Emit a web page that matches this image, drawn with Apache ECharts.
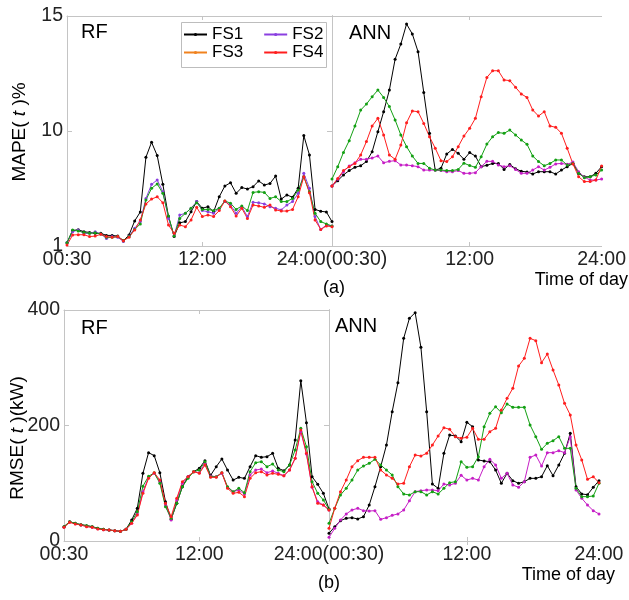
<!DOCTYPE html>
<html><head><meta charset="utf-8">
<script src="https://cdn.jsdelivr.net/npm/echarts/dist/echarts.min.js"></script>
<style>html,body{margin:0;padding:0;background:#fff}#c{width:629px;height:600px}</style>
</head><body><div id="c"></div>
<script>
const FONT = 'Liberation Sans, Arial, Helvetica, sans-serif';

// half-hour slots 00:30 ... 24:00 -> index 0..47
const slots = Array.from({length:48}, (_, i) => i);
const tickLabelsLeft = {0:'00:30', 24:'12:00', 47:'24:00(00:30)'};
const tickLabelsRight = {24:'12:00', 47:'24:00'};
const mapeTicks = {5:'1', 10:'10', 15:'15'};

// (a) MAPE(t) %, RF
const rfMapeFS1 = [5.14,5.67,5.71,5.62,5.59,5.55,5.55,5.46,5.46,5.43,5.23,5.48,6.09,6.48,8.86,9.51,8.93,7.68,6.28,5.41,6.01,6.06,6.49,6.93,6.64,6.71,6.49,7.14,7.61,7.75,7.29,7.54,7.48,7.58,7.83,7.65,7.72,8.04,7.04,7.22,7.12,7.51,9.80,8.96,6.59,6.51,6.48,6.06];
const rfMapeFS2 = [5.14,5.62,5.70,5.55,5.55,5.62,5.52,5.33,5.41,5.38,5.20,5.43,5.77,6.06,7.07,7.68,7.87,7.36,6.20,5.45,6.35,6.42,6.64,6.93,6.54,6.49,6.42,6.64,6.93,6.78,6.42,6.71,6.28,6.90,6.88,6.83,6.71,6.64,6.57,6.78,6.93,7.29,8.16,7.51,6.28,5.72,5.91,5.87];
const rfMapeFS3 = [5.14,5.70,5.65,5.59,5.55,5.58,5.52,5.38,5.38,5.41,5.23,5.41,5.72,5.96,7.00,7.51,7.70,7.29,6.30,5.43,6.20,6.42,6.64,6.88,6.59,6.59,6.54,6.64,6.96,6.86,6.59,6.74,6.54,7.33,7.36,7.33,7.07,7.14,6.93,6.93,7.07,7.43,8.01,7.36,6.42,6.06,5.96,5.87];
const rfMapeFS4 = [5.04,5.48,5.49,5.49,5.41,5.43,5.51,5.41,5.38,5.41,5.23,5.38,5.70,6.13,6.83,7.04,7.14,6.88,5.91,5.55,5.91,5.84,6.13,6.68,6.28,6.35,6.28,6.54,6.96,6.71,6.30,6.64,6.20,6.78,6.74,6.68,6.78,6.57,6.52,6.52,6.59,7.14,8.01,7.32,6.13,5.72,5.87,5.84];
// (a) MAPE(t) %, ANN
const annMapeFS1 = [7.61,7.84,8.09,8.28,8.42,8.49,8.67,9.10,9.97,10.84,11.78,13.12,13.78,14.65,14.22,13.45,11.67,9.90,8.30,8.38,9.00,9.20,9.03,8.77,9.06,8.91,8.45,8.51,8.59,8.59,8.33,8.54,8.36,8.25,8.22,8.13,8.23,8.23,8.23,8.13,8.30,8.45,8.59,8.16,8.01,8.01,8.16,8.45];
const annMapeFS2 = [7.61,7.90,8.23,8.48,8.62,8.77,8.77,8.83,8.91,8.62,8.68,8.71,8.52,8.52,8.49,8.45,8.30,8.30,8.30,8.28,8.23,8.23,8.28,8.16,8.16,8.19,8.45,8.68,8.68,8.52,8.45,8.49,8.33,8.16,8.16,8.30,8.45,8.30,8.42,8.57,8.59,8.55,8.65,8.23,7.99,7.87,7.87,7.91];
const annMapeFS3 = [7.91,8.45,9.07,9.58,10.22,10.91,11.17,11.49,11.78,11.46,11.06,10.48,9.83,9.32,8.91,8.59,8.59,8.38,8.30,8.30,8.28,8.28,8.33,8.60,8.50,8.42,8.88,9.43,9.75,9.93,9.90,10.04,9.83,9.61,9.42,8.91,8.67,8.49,8.59,8.74,8.74,8.52,8.59,8.16,7.97,8.01,8.09,8.30];
const annMapeFS4 = [7.61,7.94,8.28,8.45,8.59,8.96,9.54,10.22,10.55,9.83,8.96,8.77,9.39,10.36,10.87,10.84,10.33,9.75,9.25,8.71,8.67,8.88,9.32,9.78,10.12,10.55,11.49,12.33,12.62,12.62,12.22,12.19,11.90,11.61,11.46,10.91,10.65,10.84,10.22,10.16,9.90,9.25,8.57,8.01,7.80,7.80,7.87,8.48];
// (b) RMSE(t) kW, RF
const rfRmseFS1 = [24.8,33.5,30.6,28.3,26.6,24.8,21.9,20.2,19.0,17.9,16.7,20.2,36.4,56.6,117.2,153.0,147.8,118.3,68.1,37.5,65.2,94.1,111.4,120.1,125.8,139.1,113.7,128.7,142.0,122.9,105.6,110.2,108.5,128.7,147.8,144.9,146.0,151.8,125.8,121.8,131.6,174.9,277.6,204.9,111.4,98.1,82.5,55.4];
const rfRmseFS2 = [23.7,32.9,30.0,27.7,25.4,23.7,21.4,19.6,19.0,17.9,16.7,20.2,30.6,46.8,85.4,110.2,117.2,102.7,62.3,36.4,71.0,99.9,111.4,120.1,118.3,134.6,112.5,111.4,117.2,92.9,85.4,88.3,81.4,114.3,122.9,124.6,118.3,121.2,117.2,113.1,122.9,143.1,189.5,150.7,92.9,68.1,62.3,53.7];
const rfRmseFS3 = [24.8,33.5,30.6,28.3,26.6,24.8,21.9,20.2,19.0,17.9,16.7,20.2,33.5,50.8,95.0,112.0,118.0,100.0,59.4,39.3,65.2,94.1,108.5,120.1,122.9,137.4,111.4,111.4,118.3,94.1,85.4,91.2,83.7,120.1,135.6,137.4,128.7,133.3,122.9,120.1,131.6,157.6,195.1,163.3,102.7,82.5,71.0,54.8];
const rfRmseFS4 = [23.7,32.3,29.4,27.7,24.8,23.7,20.8,19.6,19.0,17.9,16.7,20.2,30.6,45.0,82.5,108.5,118.3,105.6,65.2,42.1,73.9,102.7,111.4,120.1,117.2,131.6,110.2,110.2,118.3,91.2,82.5,84.3,76.8,108.5,118.3,120.1,114.3,117.2,115.4,113.1,122.9,143.1,192.2,151.8,94.1,65.2,62.3,53.7];
// (b) RMSE(t) kW, ANN
const annRmseFS1 = [13.3,24.8,35.2,39.3,40.4,38.1,42.1,62.3,94.1,128.7,166.2,224.0,274.2,350.9,385.6,395.4,335.4,224.0,98.7,91.2,151.8,183.5,181.8,172.0,205.5,198.0,140.3,138.5,137.4,122.9,99.9,117.2,104.5,99.9,102.7,108.5,108.5,111.4,130.4,113.1,131.6,151.8,186.4,94.1,81.4,80.2,92.9,104.5];
const annRmseFS2 = [6.4,21.9,36.4,46.8,53.7,56.6,52.5,51.9,52.5,37.5,40.4,44.4,46.8,53.7,69.8,85.4,87.2,88.3,88.3,87.2,98.7,97.0,99.9,113.7,105.6,108.5,105.6,128.7,141.4,131.6,108.5,117.2,97.0,92.9,102.7,144.9,148.9,129.9,153.0,153.0,156.4,153.0,180.7,88.3,73.9,62.3,52.5,46.8];
const annRmseFS3 = [30.6,56.6,79.7,91.2,105.6,122.9,129.9,134.5,141.4,131.6,122.9,114.3,94.1,81.4,79.7,85.4,85.4,79.7,85.4,81.4,91.2,101.0,102.7,137.4,127.6,128.7,146.0,198.0,221.1,232.6,222.2,237.2,231.5,231.5,231.5,200.9,180.7,158.7,169.1,173.7,180.7,160.5,160.5,91.2,76.8,76.8,77.9,99.9];
const annRmseFS4 = [21.9,56.6,85.4,105.6,128.7,139.1,144.9,144.9,144.9,122.9,114.3,108.5,98.7,99.9,128.7,148.9,147.2,151.8,166.2,181.8,196.2,193.4,180.7,177.8,179.5,195.1,176.0,176.0,189.3,195.1,226.8,247.0,264.4,303.0,316.3,350.9,346.9,308.8,323.8,296.1,270.1,238.4,218.2,166.2,140.3,106.8,111.4,101.0];

const C = {black:'#000000', violet:'#8a3fe0', magenta:'#c61fc6', green:'#13a013', red:'#ff1e1e', orange:'#f0821e'};
const BOX = '#c4c4c4', DIV = '#8f8f8f', TXT = '#222222';

const grids = [
  {left:67, top:16, width:265, height:230},
  {left:332, top:16, width:270, height:230},
  {left:64, top:310, width:265, height:231},
  {left:329, top:310, width:270, height:231}
];

function xAxes(g, labels) {
  const base = {type:'value', gridIndex:g, min:0, max:47, splitLine:{show:false},
    axisLine:{lineStyle:{color:BOX, width:1}},
    axisTick:{inside:true, length:4, customValues:[24], lineStyle:{color:BOX}}};
  const keys = Object.keys(labels).map(Number);
  return [
    Object.assign({}, base, {position:'bottom',
      axisLabel:{customValues:keys, formatter:v => labels[v] || '', fontSize:19.5, fontFamily:FONT, color:TXT, margin:4}}),
    Object.assign({}, base, {position:'top', axisLabel:{show:false}})
  ];
}
function yBase(g, min, max, interval) {
  return {type:'value', gridIndex:g, min:min, max:max, interval:interval, splitLine:{show:false}};
}
const xAxis = [].concat(xAxes(0, tickLabelsLeft), xAxes(1, tickLabelsRight), xAxes(2, tickLabelsLeft), xAxes(3, tickLabelsRight));
const tickStyle = {inside:true, length:5, lineStyle:{color:BOX}};
const yAxis = [
  Object.assign(yBase(0,5,15,5), {position:'left', axisLine:{show:true, lineStyle:{color:BOX}}, axisTick:tickStyle,
    axisLabel:{formatter:v => mapeTicks[v], fontSize:19.5, fontFamily:FONT, color:TXT, margin:4}}),
  Object.assign(yBase(1,5,15,5), {position:'left', axisLine:{show:true, lineStyle:{color:DIV}}, axisTick:{show:false}, axisLabel:{show:false}}),
  Object.assign(yBase(1,5,15,5), {position:'right', axisLine:{show:true, lineStyle:{color:BOX}}, axisTick:tickStyle, axisLabel:{show:false}}),
  Object.assign(yBase(2,0,400,200), {position:'left', axisLine:{show:true, lineStyle:{color:BOX}}, axisTick:tickStyle,
    axisLabel:{fontSize:19.5, fontFamily:FONT, color:TXT, margin:4}}),
  Object.assign(yBase(3,0,400,200), {position:'left', axisLine:{show:true, lineStyle:{color:DIV}}, axisTick:{show:false}, axisLabel:{show:false}}),
  Object.assign(yBase(3,0,400,200), {position:'right', axisLine:{show:true, lineStyle:{color:BOX}}, axisTick:tickStyle, axisLabel:{show:false}})
];

function line(name, vals, color, xi, yi) {
  return {name:name, type:'line', xAxisIndex:xi, yAxisIndex:yi,
    data: slots.map((s, i) => [s, vals[i]]),
    color:color, symbol:'circle', symbolSize:3, showSymbol:true,
    lineStyle:{width:1, color:color}, itemStyle:{color:color}, emphasis:{disabled:true}};
}

const series = [
  // legend-only entry (legend shows FS3 in orange)
  {name:'FS3', type:'line', xAxisIndex:0, yAxisIndex:0, data:[], color:C.orange, symbol:'circle', symbolSize:3,
   lineStyle:{width:1, color:C.orange}, itemStyle:{color:C.orange}},
  line('FS1', rfMapeFS1, C.black, 0, 0),
  line('FS2', rfMapeFS2, C.violet, 0, 0),
  line('FS3', rfMapeFS3, C.green, 0, 0),
  line('FS4', rfMapeFS4, C.red, 0, 0),
  line('FS1', annMapeFS1, C.black, 2, 1),
  line('FS2', annMapeFS2, C.magenta, 2, 1),
  line('FS3', annMapeFS3, C.green, 2, 1),
  line('FS4', annMapeFS4, C.red, 2, 1),
  line('FS1', rfRmseFS1, C.black, 4, 3),
  line('FS2', rfRmseFS2, C.magenta, 4, 3),
  line('FS3', rfRmseFS3, C.green, 4, 3),
  line('FS4', rfRmseFS4, C.red, 4, 3),
  line('FS1', annRmseFS1, C.black, 6, 4),
  line('FS2', annRmseFS2, C.magenta, 6, 4),
  line('FS3', annRmseFS3, C.green, 6, 4),
  line('FS4', annRmseFS4, C.red, 6, 4)
];

const legendBase = {left:183, itemWidth:23, itemHeight:4, itemGap:20, padding:0, selectedMode:false, z:5,
  textStyle:{fontSize:17, fontFamily:FONT, color:'#000'}};
const legend = [
  Object.assign({}, legendBase, {data:['FS1','FS2'], top:26}),
  Object.assign({}, legendBase, {data:['FS3','FS4'], top:44})
];

function txt(x, y, s, size, align) {
  return {type:'text', x:x, y:y, silent:true, z:10,
    style:{text:s, font:size + 'px ' + FONT, fill:'#000', align:align || 'left', verticalAlign:'middle'}};
}
function ytitle(x, y, a, b, c) {
  return {type:'text', x:x, y:y, rotation:Math.PI/2, silent:true, z:10,
    style:{text:'{n|' + a + '}{i|' + b + '}{n|' + c + '}', align:'center', verticalAlign:'middle',
      rich:{n:{fontSize:19, fontFamily:FONT, fill:'#000'}, i:{fontSize:19, fontStyle:'italic', fontFamily:FONT, fill:'#000'}}}};
}

const graphic = [
  {type:'rect', shape:{x:181.5, y:22.5, width:145, height:45}, style:{fill:'#fff', stroke:'#bdbdbd', lineWidth:1}, z:4, silent:true},
  txt(81, 32.5, 'RF', 20),
  txt(349, 33, 'ANN', 20),
  txt(81, 328, 'RF', 20),
  txt(335, 326.5, 'ANN', 20),
  txt(334, 288.5, '(a)', 18, 'center'),
  txt(628, 280.5, 'Time of day', 18, 'right'),
  txt(329, 583, '(b)', 18, 'center'),
  txt(615, 575.5, 'Time of day', 18, 'right'),
  ytitle(20, 132, 'MAPE(', ' t ', ')%'),
  ytitle(18, 438, 'RMSE(', ' t ', ')(kW)')
];

const chart = echarts.init(document.getElementById('c'), null, {renderer:'canvas'});
chart.setOption({animation:false, backgroundColor:'#fff', grid:grids, xAxis:xAxis, yAxis:yAxis,
  series:series, legend:legend, graphic:graphic});
</script></body></html>
